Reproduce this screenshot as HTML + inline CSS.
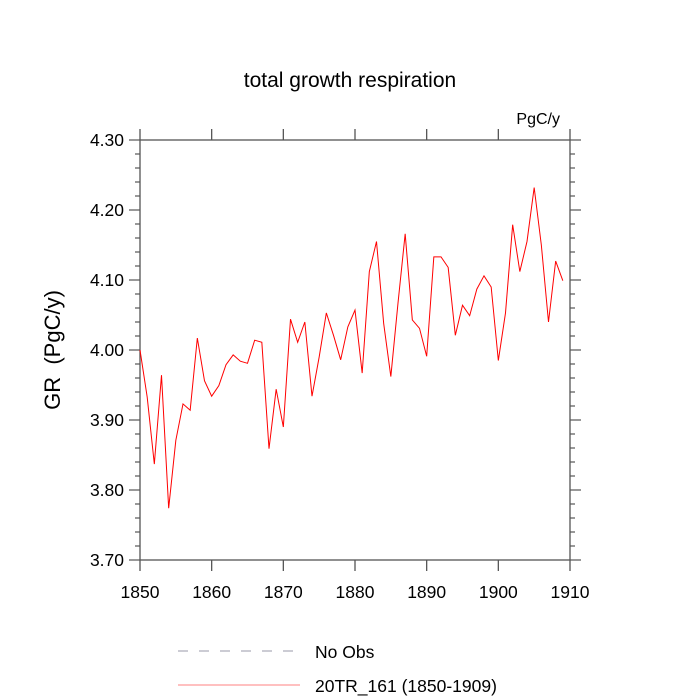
<!DOCTYPE html>
<html><head><meta charset="utf-8"><style>
body{margin:0;background:#fff;}
svg{display:block;font-family:"Liberation Sans",sans-serif;}
</style></head><body>
<svg id="chart" width="700" height="700" viewBox="0 0 700 700">
<text x="350" y="87" text-anchor="middle" font-size="21">total growth respiration</text>
<text x="560" y="124" text-anchor="end" font-size="16">PgC/y</text>
<text transform="translate(60,350) rotate(-90)" text-anchor="middle" font-size="22">GR &#160;(PgC/y)</text>
<g id="axes"></g>
<g id="series"></g>
<g>
<line x1="178" y1="651" x2="300" y2="651" stroke="#9a9aa8" stroke-width="1" stroke-dasharray="10,11"/>
<text x="315" y="658" font-size="17.5">No Obs</text>
<line x1="178" y1="685" x2="300" y2="685" stroke="#ff8080" stroke-width="1"/>
<text x="315" y="692" font-size="17.5">20TR_161 (1850-1909)</text>
</g>
</svg>
<script>
const years = [];
for (let y = 1850; y <= 1909; y++) years.push(y);
const grValues = [4.000,3.933,3.837,3.964,3.774,3.871,3.923,3.914,4.017,3.956,
3.934,3.949,3.979,3.993,3.984,3.981,4.014,4.011,3.859,3.944,
3.890,4.044,4.011,4.040,3.934,3.990,4.053,4.021,3.986,4.033,
4.057,3.967,4.112,4.155,4.038,3.962,4.067,4.166,4.043,4.031,
3.991,4.133,4.133,4.118,4.021,4.064,4.049,4.087,4.106,4.090,
3.985,4.053,4.179,4.112,4.155,4.232,4.150,4.040,4.127,4.099];
const xTicks = [1850,1860,1870,1880,1890,1900,1910];
const yTicks = [3.70,3.80,3.90,4.00,4.10,4.20,4.30];

const L=140,R=570,T=140,B=560;
const xMin=1850,xMax=1910,yMin=3.70,yMax=4.30;
const sx=v=>L+(v-xMin)/(xMax-xMin)*(R-L);
const sy=v=>B-(v-yMin)/(yMax-yMin)*(B-T);
const NS="http://www.w3.org/2000/svg";
const axes=document.getElementById('axes');
const series=document.getElementById('series');
function mk(tag,attrs,parent){const e=document.createElementNS(NS,tag);for(const k in attrs)e.setAttribute(k,attrs[k]);parent.appendChild(e);return e;}
const ac="#555";
const frame=mk('rect',{x:L,y:T,width:R-L,height:B-T,fill:'none',stroke:ac,'stroke-width':1.3},axes);


xTicks.forEach(t=>{
  const x=sx(t);
  const a=mk('line',{x1:x,y1:B,x2:x,y2:B+11,stroke:ac,'stroke-width':1.3},axes);
  
  
  const b=mk('line',{x1:x,y1:T,x2:x,y2:T-11,stroke:ac,'stroke-width':1.3},axes);
  
  
  const tx=mk('text',{x:x,y:B+38,'text-anchor':'middle','font-size':17.5},axes);
  tx.textContent=t;
  
  
});
for(let v=yMin;v<=yMax+1e-9;v+=0.02){
  const y=sy(v);
  const major=Math.abs(Math.round(v*10)-v*10)<1e-6;
  const len=major?11:5;
  const a=mk('line',{x1:L,y1:y,x2:L-len,y2:y,stroke:ac,'stroke-width':1.2},axes);
  
  
  const b=mk('line',{x1:R,y1:y,x2:R+len,y2:y,stroke:ac,'stroke-width':1.2},axes);
  
  
}
yTicks.forEach(t=>{
  const tx=mk('text',{x:L-16,y:sy(t)+6,'text-anchor':'end','font-size':17.5},axes);
  tx.textContent=t.toFixed(2);
  
  
});
const pts=years.map((yr,i)=>sx(yr).toFixed(2)+','+sy(grValues[i]).toFixed(2)).join(' ');
const line=mk('polyline',{points:pts,fill:'none',stroke:'#ff0000','stroke-width':1},series);


</script>
</body></html>
